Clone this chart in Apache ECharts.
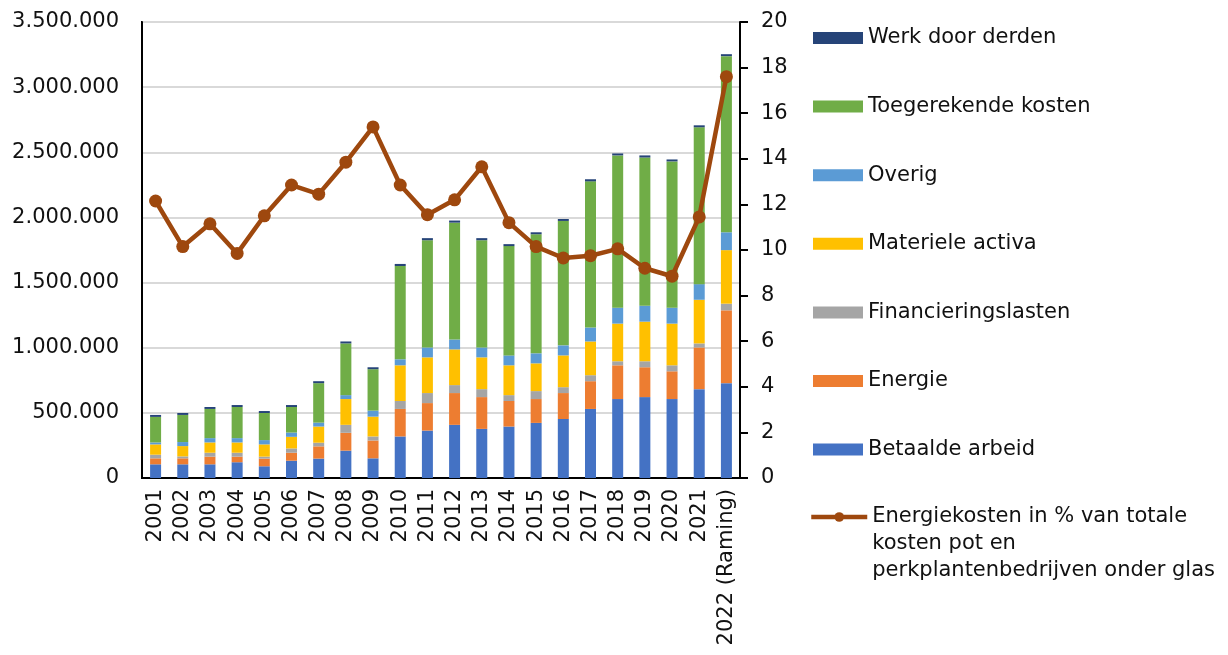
<!DOCTYPE html>
<html>
<head>
<meta charset="utf-8">
<script src="https://cdn.jsdelivr.net/npm/echarts@6/dist/echarts.min.js"></script>
<style>
  html, body { margin: 0; padding: 0; background: #fff; }
  #main { width: 1228px; height: 655px; }
</style>
</head>
<body>
<div id="main"></div>
<script>
// jaren
var years = ['2001', '2002', '2003', '2004', '2005', '2006', '2007', '2008', '2009', '2010', '2011',
    '2012', '2013', '2014', '2015', '2016', '2017', '2018', '2019', '2020', '2021', '2022 (Raming)'];

// kosten (euro)
var betaaldeArbeid = [105000, 105000, 105000, 121000, 90000, 133000, 149000, 210000, 151000, 319000, 364000,
    408000, 377000, 395000, 423000, 453000, 530000, 606000, 621000, 606000, 682000, 728000];
var energie = [46000, 46000, 59000, 43000, 59000, 61000, 94000, 137000, 137000, 211000, 211000,
    244000, 244000, 196000, 183000, 199000, 213000, 259000, 229000, 213000, 320000, 559000];
var financieringslasten = [28000, 15000, 30000, 30000, 15000, 33000, 28000, 61000, 31000, 61000, 77000,
    61000, 61000, 45000, 61000, 45000, 46000, 31000, 46000, 46000, 31000, 51000];
var materieleActiva = [79000, 79000, 79000, 79000, 94000, 89000, 124000, 198000, 152000, 274000, 274000,
    274000, 244000, 229000, 213000, 244000, 259000, 289000, 304000, 320000, 335000, 411000];
var overig = [15000, 31000, 33000, 33000, 33000, 33000, 30000, 30000, 46000, 46000, 76000,
    76000, 76000, 76000, 77000, 77000, 107000, 122000, 122000, 122000, 120000, 137000];
var toegerekendeKosten = [196000, 208000, 224000, 239000, 208000, 196000, 303000, 397000, 318000, 716000, 823000,
    897000, 823000, 839000, 914000, 955000, 1122000, 1169000, 1138000, 1123000, 1204000, 1352000];
var werkDoorDerden = [15000, 15000, 15000, 15000, 15000, 15000, 15000, 15000, 15000, 16000, 16000,
    16000, 16000, 15000, 15000, 15000, 16000, 15000, 16000, 15000, 15000, 15000];

// energiekosten in % van totale kosten
var energiePct = [12.15, 10.15, 11.15, 9.85, 11.5, 12.85, 12.45, 13.85, 15.4, 12.85, 11.55,
    12.2, 13.65, 11.2, 10.15, 9.65, 9.75, 10.05, 9.2, 8.85, 11.45, 17.6];

var lineName = 'Energiekosten in % van totale kosten pot en perkplantenbedrijven onder glas';
var font = 'DejaVu Sans, Verdana, sans-serif';
var fs = 21;

function fmt(v) {
    return String(v).replace(/\B(?=(\d{3})+(?!\d))/g, '.');
}

function bar(name, data, color) {
    return {
        name: name,
        type: 'bar',
        stack: 'kosten',
        barWidth: 11,
        data: data,
        itemStyle: { color: color }
    };
}

var chart = echarts.init(document.getElementById('main'));
var option = {
    animation: false,
    textStyle: { fontFamily: font, color: '#111' },
    grid: {
        left: 142, right: 488, top: 22, bottom: 177,
        show: true, borderColor: '#000', borderWidth: 2
    },
    legend: [{
        orient: 'vertical',
        left: 813,
        top: 25,
        padding: 0,
        itemWidth: 50,
        itemHeight: 12,
        itemGap: 42.6,
        icon: 'rect',
        textStyle: { fontFamily: font, fontSize: fs, color: '#111', lineHeight: 26 },
        data: ['Werk door derden', 'Toegerekende kosten', 'Overig', 'Materiele activa',
            'Financieringslasten', 'Energie', 'Betaalde arbeid']
    }, {
        orient: 'vertical',
        left: 809,
        top: 517 - 67.5,
        padding: 0,
        itemWidth: 56,
        itemHeight: 12,
        lineStyle: { color: '#9E480E', width: 4.5 },
        itemStyle: { color: '#9E480E' },
        textStyle: { fontFamily: font, fontSize: fs, color: '#111', lineHeight: 27 },
        formatter: function () {
            // twee lege regels zodat de eerste regel naast het icoon staat
            return '\n\nEnergiekosten in % van totale\nkosten pot en\nperkplantenbedrijven onder glas';
        },
        data: [lineName]
    }],
    xAxis: {
        type: 'category',
        data: years,
        axisLine: { lineStyle: { color: '#000', width: 2 } },
        axisTick: { show: false },
        axisLabel: {
            rotate: 90, interval: 0, fontSize: fs, color: '#111', margin: 11
        }
    },
    yAxis: [{
        type: 'value',
        min: 0, max: 3500000, interval: 500000,
        axisLine: { show: true, lineStyle: { color: '#000', width: 2 } },
        axisTick: { show: false },
        splitLine: { lineStyle: { color: '#D9D9D9', width: 2 } },
        axisLabel: { fontSize: fs, color: '#111', margin: 23, formatter: fmt }
    }, {
        type: 'value',
        position: 'right',
        min: 0, max: 20, interval: 2,
        axisLine: { show: true, lineStyle: { color: '#000', width: 2 } },
        axisTick: { show: true, inside: false, length: 8, lineStyle: { color: '#000', width: 2 } },
        splitLine: { show: false },
        axisLabel: { fontSize: fs, color: '#111', margin: 21 }
    }],
    series: [
        bar('Betaalde arbeid', betaaldeArbeid, '#4472C4'),
        bar('Energie', energie, '#ED7D31'),
        bar('Financieringslasten', financieringslasten, '#A5A5A5'),
        bar('Materiele activa', materieleActiva, '#FFC000'),
        bar('Overig', overig, '#5B9BD5'),
        bar('Toegerekende kosten', toegerekendeKosten, '#70AD47'),
        bar('Werk door derden', werkDoorDerden, '#264478'),
        {
            name: lineName,
            type: 'line',
            yAxisIndex: 1,
            data: energiePct,
            symbol: 'circle',
            symbolSize: 13,
            lineStyle: { color: '#9E480E', width: 4.5 },
            itemStyle: { color: '#9E480E' },
            z: 5
        }
    ]
};
chart.setOption(option);
</script>
</body>
</html>
